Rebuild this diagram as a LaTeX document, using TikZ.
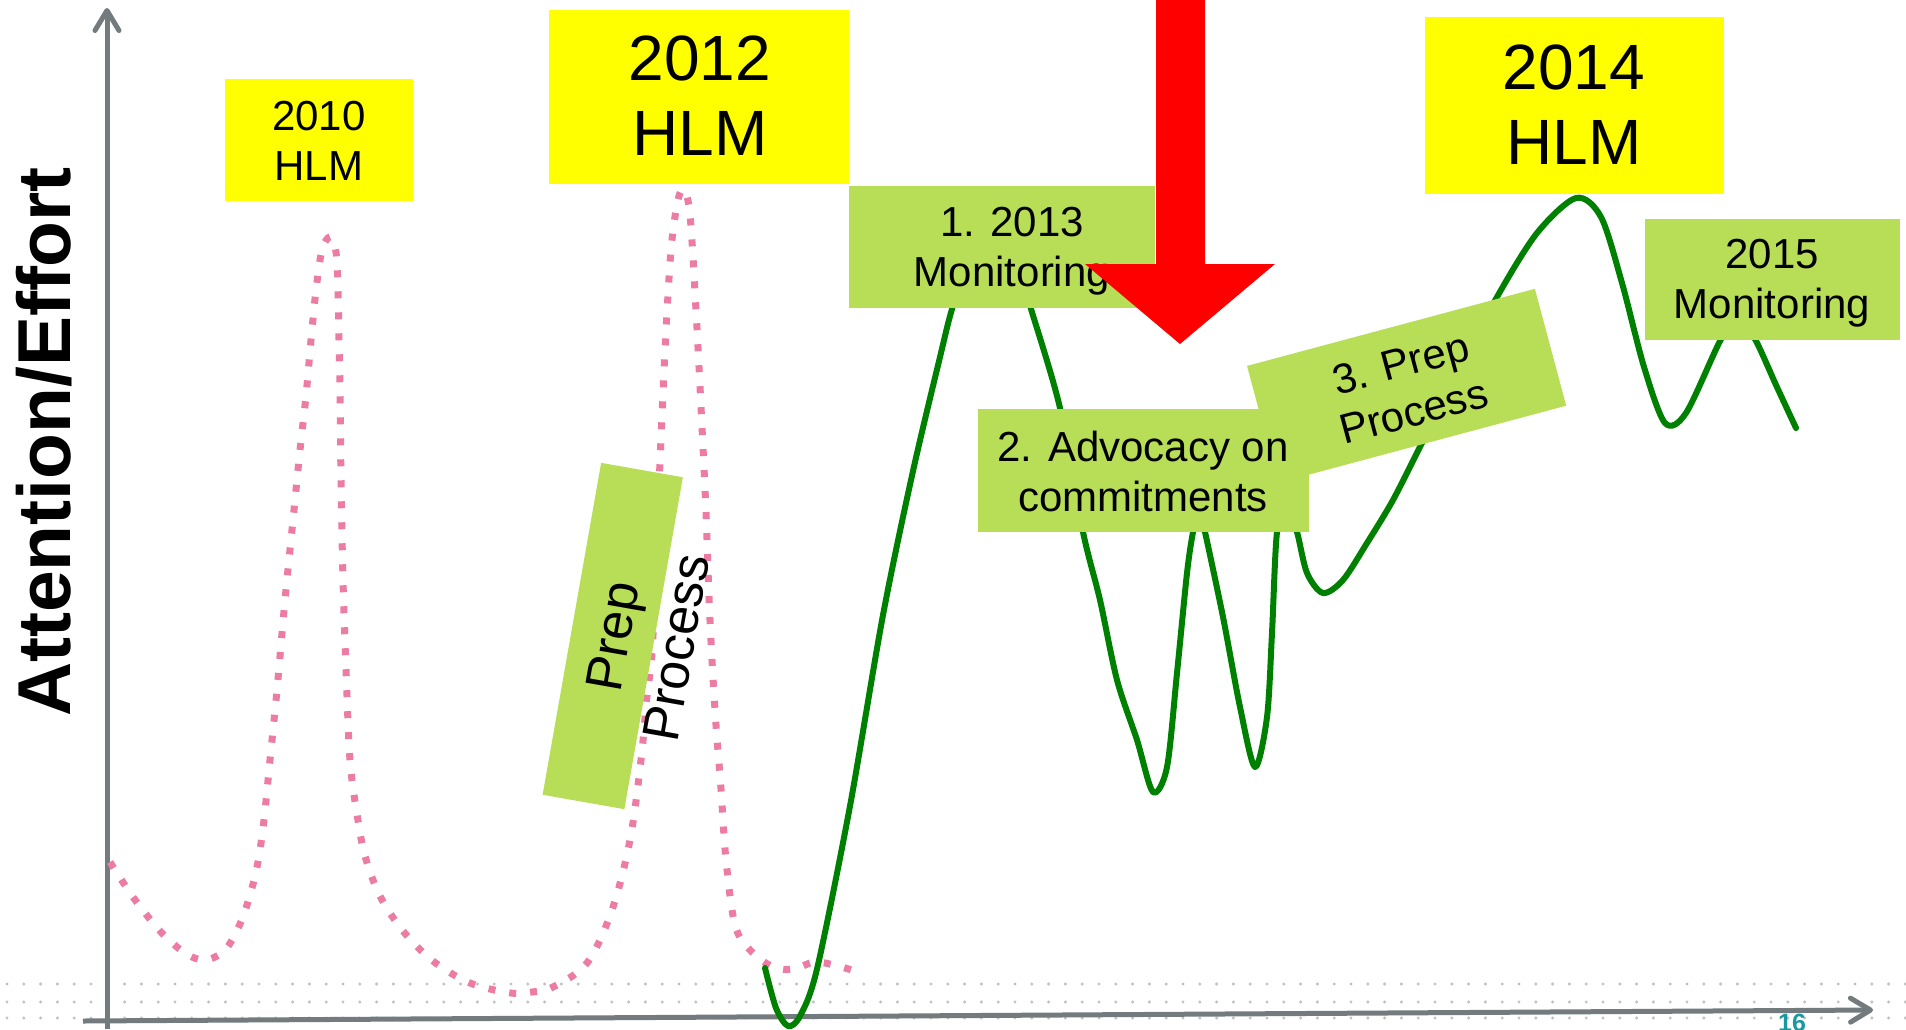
\documentclass[tikz,border=0pt]{standalone}
\usepackage{fontspec}
\setmainfont{Liberation Sans}
\usetikzlibrary{arrows.meta}
\definecolor{axisgray}{RGB}{115,123,126}
\definecolor{hlmyellow}{RGB}{255,255,0}
\definecolor{boxgreen}{RGB}{184,222,88}
\definecolor{curvegreen}{RGB}{0,128,0}
\definecolor{dotpink}{RGB}{236,124,164}
\definecolor{bgdot}{RGB}{195,195,195}
\definecolor{pageteal}{RGB}{26,152,160}
\definecolor{arrowred}{RGB}{255,0,0}
\begin{document}
\begin{tikzpicture}[x=1pt,y=-1pt,
  ybox/.style={fill=hlmyellow, draw=none, inner sep=0pt},
  gbox/.style={fill=boxgreen, draw=none, inner sep=0pt},
  lbl/.style={align=center, inner sep=0pt, text depth=0pt, font=\fontsize{42}{50}\selectfont},
  biglbl/.style={align=center, inner sep=0pt, text depth=0pt, font=\fontsize{64}{75}\selectfont},
  axisline/.style={draw=axisgray, line width=5pt, -{Straight Barb[length=20pt,width=24pt,round]}},
  pinkdots/.style={draw=dotpink, line width=7pt, dash pattern=on 7pt off 14pt},
  greencurve/.style={draw=curvegreen, line width=6pt, line cap=round, line join=round},
]
\useasboundingbox (0,0) rectangle (1906,1029);
\fill[white] (0,0) rectangle (1906,1029);

% background dot band
\foreach \r in {984,1002,1018}{
  \foreach \i in {0,...,113}{
    \fill[bgdot] ({7+16.8*\i},\r) circle[radius=1.7pt];
  }
}

% axes
\coordinate (yb) at (107,1029);
\coordinate (yt) at (107,8);
\coordinate (xl) at (83,1021);
\coordinate (xr) at (1873,1010);
\draw[axisline] (yb) -- (yt);
\draw[axisline] (xl) -- (xr);

% pink dotted curve
\draw[pinkdots] plot[smooth, tension=0.55] coordinates {
 (110,862) (133,897) (160,931) (185,953) (205,960) (225,950) (240,924) (250,895)
 (258,862) (264,820) (270,760) (277,690) (285,600) (293,520) (300,450) (306,396)
 (311,340) (316,290) (322,250) (330,237) (336,252) (338,290) (339,340) (340,390)
 (341,480) (343,580) (346,669) (350,760) (357,814) (365,856) (380,896) (403,931)
 (433,961) (470,983) (511,993) (532,992) (553,987) (587,963) (612,910) (630,840)
 (641,760) (647,696) (652,653) (656,560) (660,462) (665,350) (671,250) (678,200)
 (684,190) (690,215) (696,310) (702,427) (706,512) (709,597) (712,660) (716,725)
 (721,789) (726,860) (735,925) (750,950) (773,967) (794,969) (814,962) (834,965) (855,971)
};

% green curve
\draw[greencurve] plot[smooth, tension=0.5] coordinates {
 (765,968) (776,1008) (788,1026) (800,1016) (817,969) (850,806) (883,615) (913,471)
 (940,357) (952,309) (970,255) (992,228) (1012,250) (1031,309) (1060,408) (1083,532)
 (1100,600) (1117,680) (1137,740) (1153,792) (1167,767) (1177,673) (1187,573)
 (1193,532) (1199,508) (1205,532) (1223,617) (1240,707) (1255,767) (1267,717)
 (1272,633) (1277,532) (1287,505) (1297,532) (1307,573) (1323,593) (1343,580)
 (1367,543) (1393,500) (1422,443) (1460,370) (1497,297) (1537,233) (1576,198)
 (1601,217) (1622,283) (1644,367) (1665,423) (1686,413) (1720,341) (1738,315)
 (1756,341) (1776,385) (1796,428)
};

% axis label
\node[rotate=90, inner sep=0pt, text depth=0pt, font=\fontsize{75}{90}\selectfont\bfseries] (ylabel) at (43,442) {Attention/Effort};

% yellow HLM boxes
\node[ybox, minimum width=188pt, minimum height=122pt] (b2010) at (319,140) {};
\node[lbl] (t2010) at (319,141) {2010\\HLM};
\node[ybox, minimum width=300pt, minimum height=174pt] (b2012) at (699,97) {};
\node[biglbl] (t2012) at (700,96) {2012\\HLM};
\node[ybox, minimum width=299pt, minimum height=177pt] (b2014) at (1574.5,105.5) {};
\node[biglbl] (t2014) at (1574,105) {2014\\HLM};

% left rotated prep box
\node[gbox, rotate=80, minimum width=337pt, minimum height=83pt] (bprep) at (612.75,636) {};
\node[rotate=80, align=center, inner sep=0pt, text depth=0pt, font=\fontsize{52}{65}\selectfont] (tprep) at (644,642) {Prep\\Process};

% green process boxes
\node[gbox, rotate=15, minimum width=298pt, minimum height=121pt] (b3) at (1406.6,385.8) {};
\node[lbl, rotate=15] (t3) at (1407,387) {3. Prep\\Process};
\node[gbox, minimum width=331pt, minimum height=123pt] (b2) at (1143.5,470.5) {};
\node[lbl] (t2) at (1143,471) {2. Advocacy on\\commitments};
\node[gbox, minimum width=306pt, minimum height=122pt] (b1) at (1002,247) {};
\node[lbl] (t1) at (1012,247) {1. 2013\\Monitoring};
\node[gbox, minimum width=255pt, minimum height=121pt] (b2015) at (1772.5,279.5) {};
\node[lbl] (t2015) at (1772,279) {2015\\Monitoring};

% red arrow
\fill[arrowred] (1156,-5) -- (1205,-5) -- (1205,264) -- (1275,264) -- (1180,344)
  -- (1085,264) -- (1156,264) -- cycle;

% page number
\node[anchor=base, inner sep=0pt, text=pageteal, font=\fontsize{25}{30}\selectfont\bfseries] (pnum) at (1792,1031) {16};
\end{tikzpicture}
\end{document}
